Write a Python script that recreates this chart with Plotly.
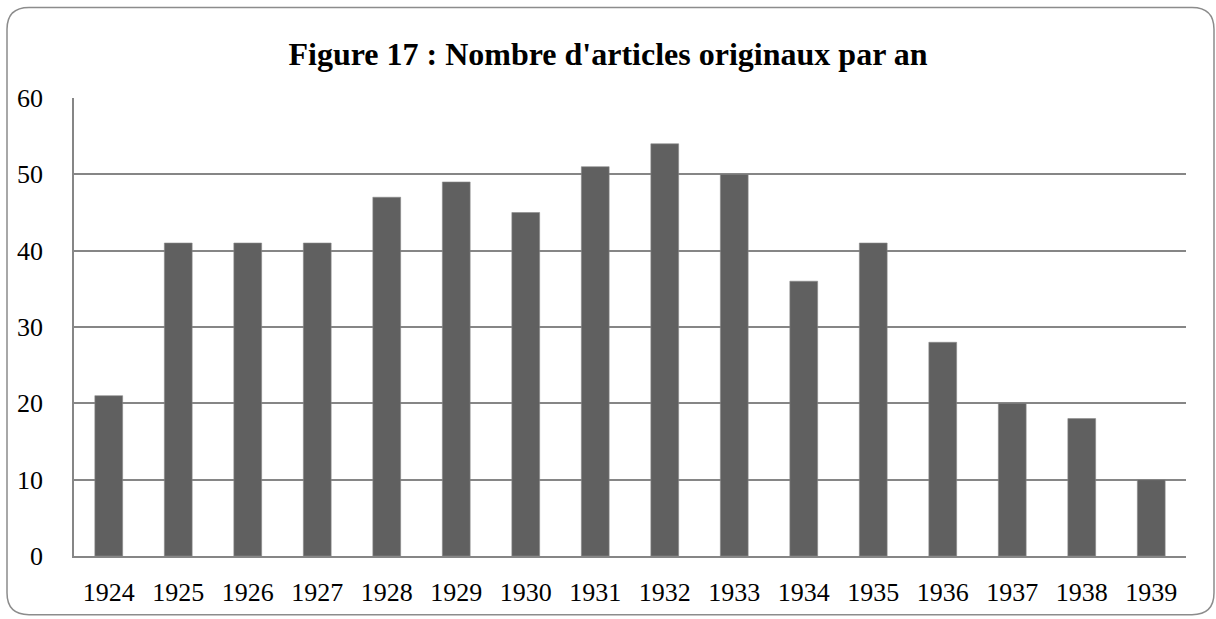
import plotly.graph_objects as go

years = ["1924", "1925", "1926", "1927", "1928", "1929", "1930", "1931",
         "1932", "1933", "1934", "1935", "1936", "1937", "1938", "1939"]
articles = [21, 41, 41, 41, 47, 49, 45, 51, 54, 50, 36, 41, 28, 20, 18, 10]
y_ticks = [0, 10, 20, 30, 40, 50, 60]

W, H = 1216, 619
L, R, T, B = 74, 30, 98, 61
pw, ph = W - L - R, H - T - B


def px_x(x):
    return (x - L) / pw


def px_y(y):
    return (H - B - y) / ph


# rounded outer frame, in pixel coords turned into paper coords
x0, x1, y0, y1, r = 7, 1214, 7, 617, 22
frame = (
    f"M {px_x(x0 + r)},{px_y(y0)} L {px_x(x1 - r)},{px_y(y0)} "
    f"Q {px_x(x1)},{px_y(y0)} {px_x(x1)},{px_y(y0 + r)} "
    f"L {px_x(x1)},{px_y(y1 - r)} "
    f"Q {px_x(x1)},{px_y(y1)} {px_x(x1 - r)},{px_y(y1)} "
    f"L {px_x(x0 + r)},{px_y(y1)} "
    f"Q {px_x(x0)},{px_y(y1)} {px_x(x0)},{px_y(y1 - r)} "
    f"L {px_x(x0)},{px_y(y0 + r)} "
    f"Q {px_x(x0)},{px_y(y0)} {px_x(x0 + r)},{px_y(y0)} Z"
)

font = "Liberation Serif, Times New Roman, serif"

fig = go.Figure(go.Bar(
    x=years, y=articles,
    marker=dict(color="#606060", line=dict(color="#8a8a8a", width=0.6)),
))

fig.update_layout(
    width=W, height=H,
    margin=dict(l=L, r=R, t=T, b=B),
    paper_bgcolor="white", plot_bgcolor="white",
    bargap=0.6,
    showlegend=False,
    font=dict(family=font, size=26, color="black"),
    title=dict(
        text="<b>Figure 17 : Nombre d'articles originaux par an</b>",
        x=0.5, xanchor="center", y=1 - 54 / H, yanchor="middle",
        font=dict(family=font, size=32, color="black"),
    ),
    shapes=[dict(type="path", path=frame, xref="paper", yref="paper",
                 line=dict(color="#8c8c8c", width=1.5), layer="below")],
)

fig.update_xaxes(
    showline=True, linecolor="#868686", linewidth=1.5,
    showgrid=False, ticks="", ticklabelstandoff=12,
    tickfont=dict(family=font, size=26),
)
fig.update_yaxes(
    range=[0, 60], tickvals=y_ticks,
    showgrid=True, gridcolor="#868686", gridwidth=1.5,
    showline=True, linecolor="#868686", linewidth=1.5,
    zeroline=False, ticks="", ticklabelstandoff=24,
    tickfont=dict(family=font, size=26),
)

# drop the page's default body margin so the figure sits at the window corner
fig.write_html(
    "out.html",
    config={"displayModeBar": False},
    post_script="document.body.style.margin='0';",
)
